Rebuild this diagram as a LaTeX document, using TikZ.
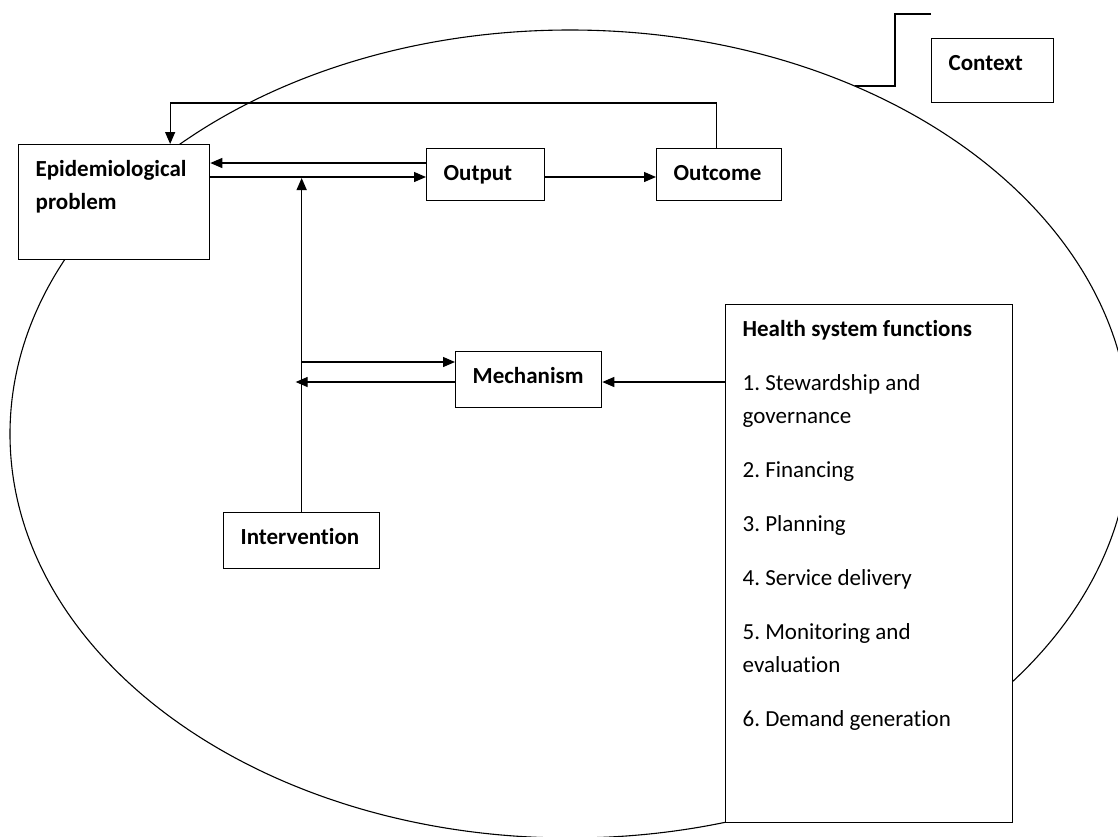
\documentclass[tikz,border=0pt]{standalone}
\usepackage{fontspec}
\setmainfont{Carlito}[Ligatures=NoCommon]
\usetikzlibrary{arrows.meta}

\begin{document}
\begin{tikzpicture}[>={Triangle[length=12pt,width=10pt]}, x=1pt, y=-1pt,
    box/.style={draw, fill=white, line width=1.3pt, anchor=north west, align=flush left,
        inner xsep=17pt, inner ysep=0pt, text height=32pt,
        font=\fontsize{23}{33}\selectfont\frenchspacing\bfseries},
    link/.style={line width=1.3pt}]
    \useasboundingbox (0,0) rectangle (1118,836);
    \clip (0,0) rectangle (1118,836);

    % Context ring
    \draw[line width=1.1pt] (570,434) ellipse [x radius=560, y radius=404];

    % Boxes
    \node[box, text width=157pt, text depth=83pt] (epi) at (18,144) {Epidemiological\\problem};
    \node[box, text width=84pt, text depth=20pt] (output) at (426,148) {Output};
    \node[box, text width=91pt, text depth=20pt] (outcome) at (656,148) {Outcome};
    \node[box, text width=88pt, text depth=32pt] (context) at (931,38) {Context};
    \node[box, text width=112pt, text depth=24pt] (mechanism) at (455,351) {Mechanism};
    \node[box, text width=122pt, text depth=24pt] (intervention) at (223,512) {Intervention};
    \node[box, text width=253pt, text depth=486pt] (health) at (725,304)
        {Health system functions\\[21pt]
         \mdseries 1. Stewardship and\\governance\\[21pt]
         2. Financing\\[21pt]
         3. Planning\\[21pt]
         4. Service delivery\\[21pt]
         5. Monitoring and\\evaluation\\[21pt]
         6. Demand generation};

    % Links between boxes
    \draw[->, link] (epi.east |- 0,177) -- (output.west |- 0,177);
    \draw[->, link] (output.west |- 0,163) -- (epi.east |- 0,163);
    \draw[->, link] (output.east |- 0,177) -- (outcome.west |- 0,177);
    \draw[->, link] ([xshift=-3pt]outcome.north) -- ++(0,-45) -| ([xshift=56pt]epi.north);
    \draw[->, link] (intervention.north) -- (intervention.north |- 0,178);
    \draw[->, link] (intervention.north |- 0,362) -- (mechanism.west |- 0,362);
    \draw[->, link] (mechanism.west |- 0,382) -- ([xshift=-6pt]intervention.north |- 0,382);
    \draw[->, link] (health.west |- 0,382) -- (mechanism.east |- 0,382);

    % Context bracket
    \coordinate (ctxend) at (855,86);
    \draw[link] (context.west |- 0,14) -| (895,86) -- (ctxend);
\end{tikzpicture}
\end{document}
